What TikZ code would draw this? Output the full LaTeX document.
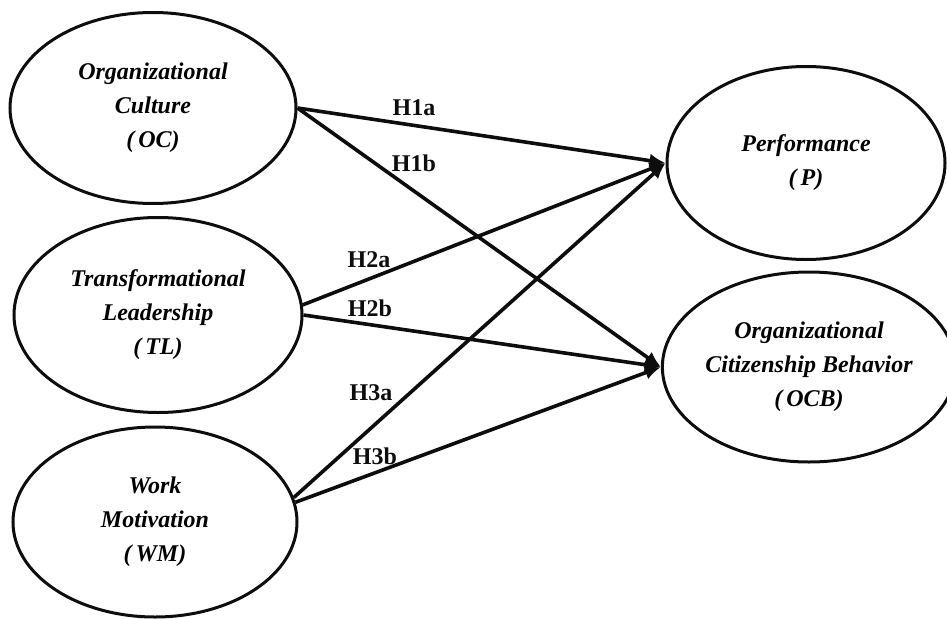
\documentclass[tikz,border=0pt]{standalone}
\usepackage{fontspec}
\setmainfont{Liberation Serif}
\usepackage{tikz}
\usetikzlibrary{arrows.meta, positioning, shapes.geometric}
\usepackage{xcolor}
\definecolor{RichBlack}{gray}{0.05}
\tikzset{%
  construct/.style={%
    ellipse,%
    draw=RichBlack,%
    line width=3pt,%
    inner sep=0pt,%
    font={\fontsize{24}{34}\selectfont\bfseries\itshape},%
    align=center%
  },
  hypothesis/.style={%
    color=RichBlack,%
    inner sep=0pt,%
    font={\fontsize{24}{28}\selectfont\bfseries},%
  },
  effect_path/.style={%
    color=RichBlack,%
    line width=3.6pt,%
    line join=round,%
  },
  arrow/.style={-{Latex[length=16pt, width=14pt]}},
}

\begin{document}
\begin{tikzpicture}[x=1pt, y=-1pt]

    \useasboundingbox (0, 0) rectangle (947, 618);

    \node [construct, minimum width=286, minimum height=191] (OC) at (153, 108)
      {Organizational\\Culture\\(\,OC)};
    \node [construct, minimum width=288, minimum height=195] (TL) at (158, 315)
      {Transformational\\Leadership\\(\,TL)};
    \node [construct, minimum width=284, minimum height=190] (WM) at (155, 522)
      {Work\\Motivation\\(\,WM)};
    \node [construct, minimum width=278, minimum height=193] (P) at (806, 163)
      {Performance\\(\,P)};
    \node [construct, minimum width=270, minimum height=190] (OCB) at (809, 367)
      {Organizational\\Citizenship Behavior\\(\,OCB)};

    \node [hypothesis] (H1a) at (414, 108) {H1a};
    \node [hypothesis] (H1b) at (414, 163) {H1b};
    \node [hypothesis] (H2a) at (369, 260) {H2a};
    \node [hypothesis] (H2b) at (370, 308) {H2b};
    \node [hypothesis] (H3a) at (371, 393) {H3a};
    \node [hypothesis] (H3b) at (375, 456) {H3b};

    \draw [arrow, effect_path]
      (OC.east)
      --
      (P.west);
    \draw [arrow, effect_path]
      (OC.east)
      --
      (OCB.west);
    \draw [arrow, effect_path]
      (TL.4)
      --
      (P.west);
    \draw [arrow, effect_path]
      (TL.east)
      --
      (OCB.west);
    \draw [arrow, effect_path]
      (WM.10)
      --
      (P.west);
    \draw [arrow, effect_path]
      (WM.8)
      --
      (OCB.west);
  \end{tikzpicture}
\end{document}
